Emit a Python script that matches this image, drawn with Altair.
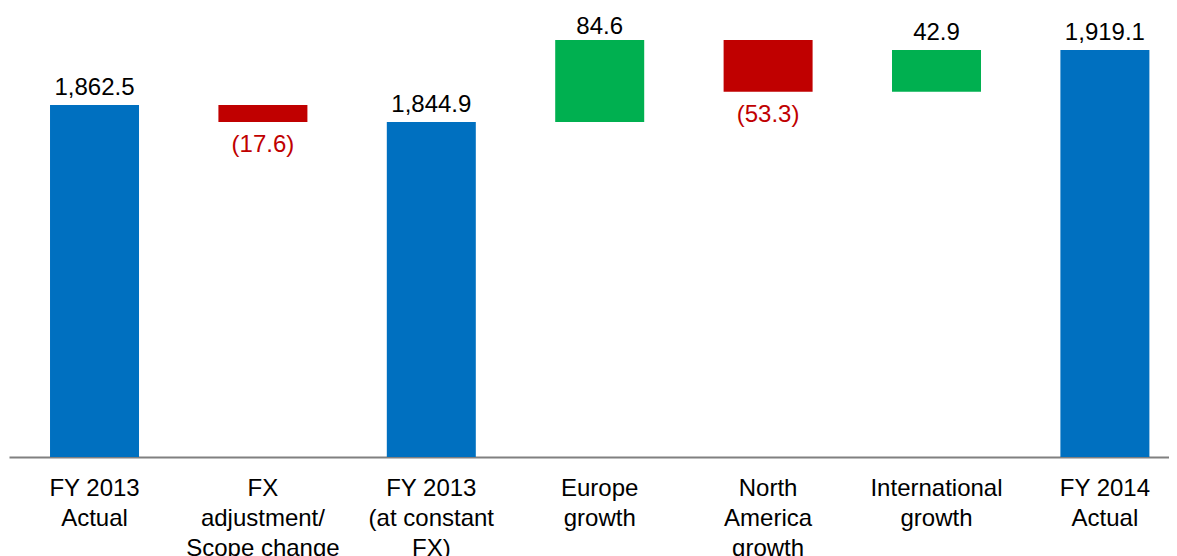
import altair as alt
import pandas as pd

categories = ["FY 2013|Actual", "FX|adjustment/|Scope change", "FY 2013|(at constant|FX)",
              "Europe|growth", "North|America|growth", "International|growth", "FY 2014|Actual"]
values = [1862.5, -17.6, 1844.9, 84.6, -53.3, 42.9, 1919.1]
kinds = ["total", "delta", "total", "delta", "delta", "delta", "total"]

rows = []
running = 0.0
for c, v, k in zip(categories, values, kinds):
    if k == "total":
        start, end = 0.0, v
        running = v
        label = f"{v:,.1f}"
        kind = "total"
    else:
        start = running
        end = running + v
        running = end
        label = f"{v:.1f}" if v >= 0 else f"({-v:.1f})"
        kind = "up" if v >= 0 else "down"
    rows.append(dict(cat=c, start=start, end=round(end, 1), label=label, kind=kind))
df = pd.DataFrame(rows)

FONT = "Liberation Sans"

x = alt.X(
    "cat:N", sort=categories,
    scale=alt.Scale(paddingInner=0.4715, paddingOuter=0.18, align=0.6766),
    axis=alt.Axis(
        title=None, labelExpr="split(datum.label, '|')", labelAngle=0, ticks=False,
        domainColor="#808080", domainWidth=2, labelFont=FONT, labelFontSize=24,
        labelColor="#000000", labelPadding=19, labelLineHeight=30, labelLimit=400,
        labelOverlap=False, labelBaseline="top",
    ),
)
yscale = alt.Scale(domain=[1500, 1962.4], nice=False, zero=False)

base = alt.Chart(df)

bars = base.mark_bar(clip=True).encode(
    x=x,
    y=alt.Y("start:Q", scale=yscale, axis=None),
    y2="end:Q",
    color=alt.Color("kind:N", scale=alt.Scale(domain=["total", "up", "down"],
                                              range=["#0070C0", "#00B050", "#C00000"]), legend=None),
)

up_labels = base.transform_filter(
    "datum.kind != 'down' && datum.cat != 'Europe|growth'"
).mark_text(font=FONT, fontSize=24, dy=-10, baseline="alphabetic", color="#000000").encode(
    x=alt.X("cat:N", sort=categories), y=alt.Y("end:Q", scale=yscale), text="label:N"
)
eu_label = base.transform_filter(
    "datum.cat == 'Europe|growth'"
).mark_text(font=FONT, fontSize=24, dy=-6, baseline="alphabetic", color="#000000").encode(
    x=alt.X("cat:N", sort=categories), y=alt.Y("end:Q", scale=yscale), text="label:N"
)
down_labels = base.transform_filter("datum.kind == 'down'").mark_text(
    font=FONT, fontSize=24, dy=30, baseline="alphabetic", color="#C00000"
).encode(
    x=alt.X("cat:N", sort=categories), y=alt.Y("end:Q", scale=yscale), text="label:N"
)

chart = alt.layer(bars, up_labels, eu_label, down_labels).properties(
    width=1160, height=449,
    padding={"left": 1, "top": 0, "right": 0, "bottom": 100},
    autosize=alt.AutoSizeParams(type="none"),
).configure_view(stroke=None)

chart.save("out.html", embed_options={"renderer": "svg", "actions": False})
